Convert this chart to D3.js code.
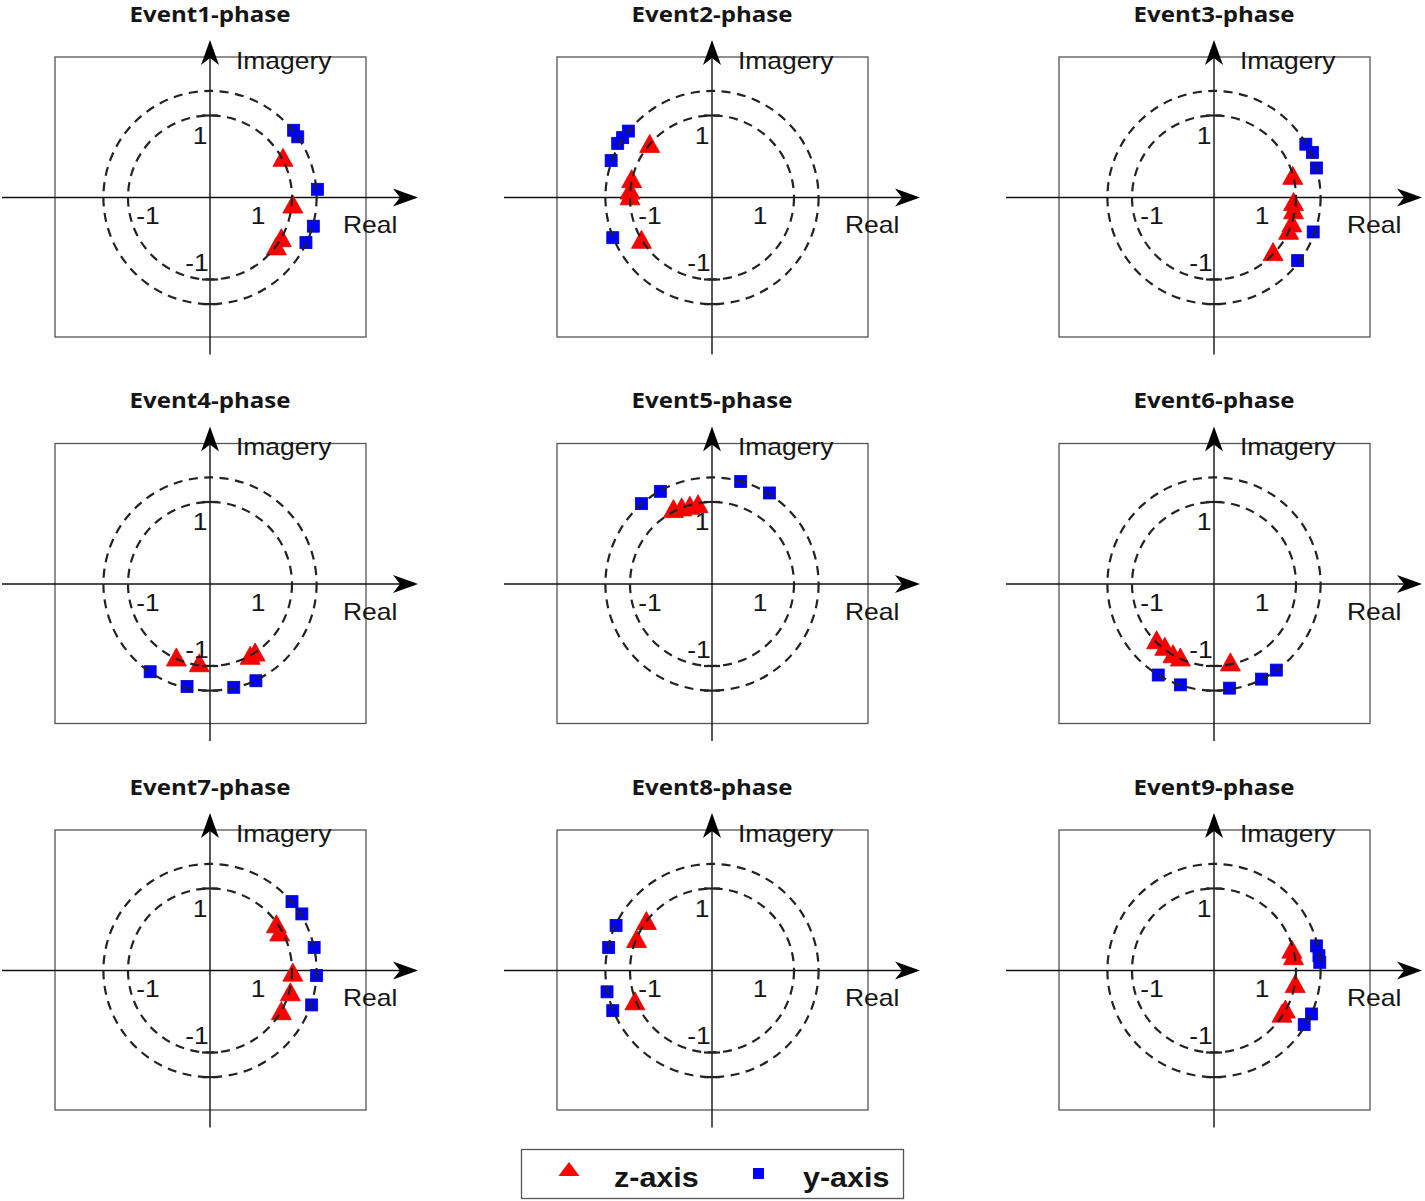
<!DOCTYPE html>
<html><head><meta charset="utf-8">
<script src="https://cdn.jsdelivr.net/npm/d3@7"></script>
<style>body{margin:0;background:#fff}svg{display:block}</style>
</head><body><svg id="c" width="1425" height="1201"></svg>
<script>
// ---------- data ----------
const eventTitles = ["Event1-phase","Event2-phase","Event3-phase","Event4-phase","Event5-phase","Event6-phase","Event7-phase","Event8-phase","Event9-phase"];
// z-axis (red triangles): [real, imag]
const zEvent1 = [[0.89,0.49],[1.01,-0.08],[0.87,-0.49],[0.81,-0.59]];
const zEvent2 = [[-0.76,0.66],[-0.98,0.23],[-1.00,0.09],[-1.00,0.02],[-0.86,-0.51]];
const zEvent3 = [[0.96,0.27],[0.97,-0.05],[0.97,-0.15],[0.95,-0.31],[0.91,-0.40],[0.72,-0.66]];
const zEvent4 = [[-0.41,-0.89],[-0.13,-0.96],[0.49,-0.87],[0.55,-0.83]];
const zEvent5 = [[-0.47,0.92],[-0.37,0.94],[-0.27,0.96],[-0.17,0.98]];
const zEvent6 = [[-0.70,-0.68],[-0.60,-0.76],[-0.50,-0.85],[-0.41,-0.89],[0.20,-0.95]];
const zEvent7 = [[0.81,0.57],[0.85,0.47],[1.01,-0.02],[0.98,-0.26],[0.87,-0.49]];
const zEvent8 = [[-0.80,0.61],[-0.92,0.39],[-0.94,-0.37]];
const zEvent9 = [[0.95,0.26],[0.97,0.18],[0.99,-0.16],[0.87,-0.47],[0.83,-0.52]];
// y-axis (blue squares): [real, imag]
const yEvent1 = [[1.02,0.82],[1.07,0.74],[1.31,0.10],[1.26,-0.35],[1.17,-0.55]];
const yEvent2 = [[-1.02,0.81],[-1.09,0.73],[-1.15,0.66],[-1.23,0.45],[-1.21,-0.49]];
const yEvent3 = [[1.12,0.65],[1.20,0.55],[1.25,0.36],[1.21,-0.42],[1.02,-0.77]];
const yEvent4 = [[-0.73,-1.07],[-0.28,-1.25],[0.29,-1.26],[0.56,-1.18]];
const yEvent5 = [[-0.86,0.98],[-0.63,1.13],[0.35,1.25],[0.70,1.11]];
const yEvent6 = [[-0.68,-1.11],[-0.41,-1.23],[0.19,-1.27],[0.58,-1.16],[0.76,-1.05]];
const yEvent7 = [[1.00,0.84],[1.12,0.69],[1.27,0.28],[1.30,-0.06],[1.24,-0.42]];
const yEvent8 = [[-1.17,0.55],[-1.26,0.28],[-1.28,-0.26],[-1.21,-0.49]];
const yEvent9 = [[1.25,0.30],[1.28,0.18],[1.29,0.10],[1.19,-0.53],[1.10,-0.66]];
const ringRadii = [1, 1.3];
const realTickLabels = ["-1","1"];
const imagTickLabels = ["1","-1"];
const axisNames = ["Real","Imagery"];
const legendLabels = ["z-axis","y-axis"];

const zSeries = [zEvent1,zEvent2,zEvent3,zEvent4,zEvent5,zEvent6,zEvent7,zEvent8,zEvent9];
const ySeries = [yEvent1,yEvent2,yEvent3,yEvent4,yEvent5,yEvent6,yEvent7,yEvent8,yEvent9];

// ---------- layout ----------
const svg = d3.select("#c");
const unitPx = 82;
const colX = [210, 712, 1214];
const rowY = [197.5, 584, 970.5];
const SX = 1.15;
const textFont = "'Liberation Sans', Arial, sans-serif";
const titleFont = "'Open Sans', 'Liberation Sans', sans-serif";

function scaledText(g, x, y, str, size, weight, family, anchor, sx) {
  g.append("text")
    .attr("transform", `translate(${x},${y}) scale(${sx || SX},1)`)
    .attr("text-anchor", anchor || "middle")
    .attr("font-family", family)
    .attr("font-size", size)
    .attr("font-weight", weight)
    .attr("fill", "#151515")
    .text(str);
}

function triPath(w, h) {
  return `M0,${-h/2}L${w/2},${h/2}L${-w/2},${h/2}Z`;
}
function arrowPath() {
  return "M0,0L-25,-9L-18,0L-25,9Z";
}

eventTitles.forEach((title, i) => {
  const cx = colX[i % 3], cy = rowY[Math.floor(i / 3)];
  const x = d3.scaleLinear().domain([-1, 1]).range([cx - unitPx, cx + unitPx]);
  const y = d3.scaleLinear().domain([-1, 1]).range([cy + unitPx, cy - unitPx]);
  const g = svg.append("g");

  scaledText(g, cx, cy - 176, title, 21.5, 700, titleFont, "middle", 1.12);

  g.append("rect").attr("x", cx - 155).attr("y", cy - 140.5)
    .attr("width", 311).attr("height", 280)
    .attr("fill", "none").attr("stroke", "#555").attr("stroke-width", 1.3);

  g.append("line").attr("x1", cx - 208).attr("x2", cx + 205).attr("y1", y(0)).attr("y2", y(0))
    .attr("stroke", "#111").attr("stroke-width", 1.4);
  g.append("line").attr("x1", x(0)).attr("x2", x(0)).attr("y1", cy + 157).attr("y2", cy - 154)
    .attr("stroke", "#111").attr("stroke-width", 1.4);
  g.append("path").attr("d", arrowPath()).attr("transform", `translate(${cx + 208},${y(0)})`).attr("fill", "#000");
  g.append("path").attr("d", arrowPath()).attr("transform", `translate(${x(0)},${cy - 157.5}) rotate(-90)`).attr("fill", "#000");

  g.selectAll("path.z").data(zSeries[i]).enter().append("path")
    .attr("class", "z").attr("d", triPath(20, 18))
    .attr("transform", d => `translate(${x(d[0])},${y(d[1])})`)
    .attr("fill", "#ff0000").attr("stroke", "#e00000").attr("stroke-width", 0.8);
  g.selectAll("rect.y").data(ySeries[i]).enter().append("rect")
    .attr("class", "y").attr("width", 12).attr("height", 12)
    .attr("x", d => x(d[0]) - 6).attr("y", d => y(d[1]) - 6)
    .attr("fill", "#0000ff").attr("stroke", "#0000cc").attr("stroke-width", 0.8);

  g.selectAll("circle.ring").data(ringRadii).enter().append("circle")
    .attr("class", "ring").attr("cx", x(0)).attr("cy", y(0))
    .attr("r", d => x(d) - x(0))
    .attr("fill", "none").attr("stroke", "#222").attr("stroke-width", 2.2)
    .attr("stroke-dasharray", "9,6.5");

  [ringRadii[0], -ringRadii[0], -ringRadii[1]].forEach(r => {
    g.append("line").attr("x1", x(0) - 8).attr("x2", x(0) + 8).attr("y1", y(r)).attr("y2", y(r))
      .attr("stroke", "#222").attr("stroke-width", 2.2);
  });

  scaledText(g, cx + 26, cy - 129, axisNames[1], 23, 400, textFont, "start");
  scaledText(g, cx + 133, cy + 35.5, axisNames[0], 23, 400, textFont, "start");
  scaledText(g, cx - 62, cy + 26.5, realTickLabels[0], 23, 400, textFont);
  scaledText(g, cx + 48, cy + 26.5, realTickLabels[1], 23, 400, textFont);
  scaledText(g, cx - 10, cy - 54, imagTickLabels[0], 23, 400, textFont);
  scaledText(g, cx - 13, cy + 73.5, imagTickLabels[1], 23, 400, textFont);
});

const lg = svg.append("g");
lg.append("rect").attr("x", 521.5).attr("y", 1149.5).attr("width", 382).attr("height", 49)
  .attr("fill", "#fff").attr("stroke", "#555").attr("stroke-width", 1.3);
lg.append("path").attr("d", triPath(21, 14)).attr("transform", "translate(569,1169)").attr("fill", "#ff0000");
lg.append("rect").attr("x", 753).attr("y", 1168).attr("width", 11).attr("height", 11).attr("fill", "#0000ff");
scaledText(lg, 614, 1187, legendLabels[0], 27, 700, textFont, "start", 1.13);
scaledText(lg, 803, 1187, legendLabels[1], 27, 700, textFont, "start", 1.13);
</script></body></html>
